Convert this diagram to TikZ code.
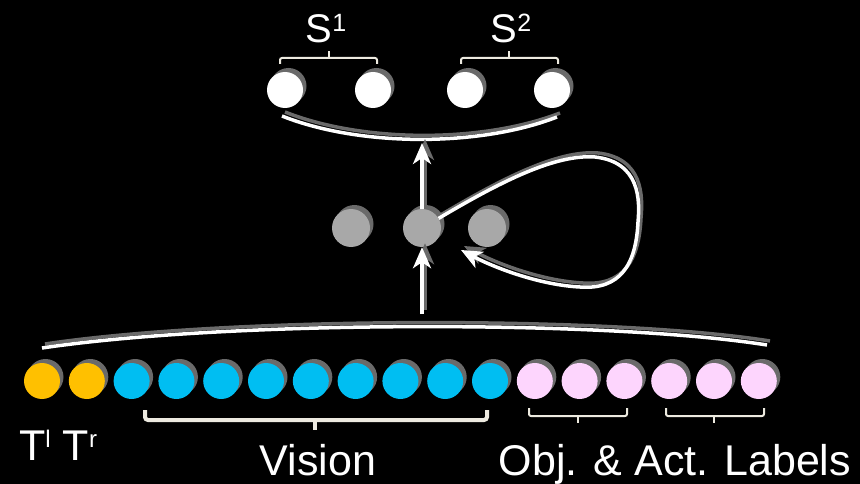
\documentclass[tikz,border=0pt]{standalone}
\usepackage{fontspec}
\setmainfont{Liberation Sans}
\usetikzlibrary{arrows.meta,shadows}

\definecolor{tokyellow}{HTML}{FFC000}
\definecolor{tokblue}{HTML}{00BEF2}
\definecolor{tokpink}{HTML}{FDD5FD}
\definecolor{hidgray}{HTML}{A8A8A8}
\definecolor{shadegray}{HTML}{6A6A6A}
\definecolor{bracecol}{HTML}{EDEAE0}

\tikzset{
  unit/.style={circle, minimum size=36pt, inner sep=0pt, draw=none,
    drop shadow={shadow xshift=3.5pt, shadow yshift=4pt, fill=shadegray, opacity=1}},
  yunit/.style={unit, fill=tokyellow},
  bunit/.style={unit, fill=tokblue},
  punit/.style={unit, fill=tokpink},
  sunit/.style={unit, fill=white},
  hunit/.style={unit, fill=hidgray, minimum size=38pt},
  wline/.style={draw=white, line width=3.5pt,
    preaction={draw=shadegray, line width=3.5pt, transform canvas={shift={(3pt,4pt)}}}},
  warrow/.style={wline, -{Stealth[length=21pt,width=18pt,inset=6pt]}},
  brace/.style={draw=bracecol, line width=2pt, rounded corners=2pt},
  bigbrace/.style={draw=bracecol, line width=4pt, rounded corners=3pt},
  lbl/.style={text=white, inner sep=0pt, anchor=base,
    font=\fontsize{43}{50}\selectfont},
  slbl/.style={text=white, inner sep=0pt, anchor=base,
    font=\fontsize{40}{46}\selectfont},
}
\newcommand{\supr}[3]{\raisebox{#1}{\fontsize{#2}{#2}\selectfont #3}}

\begin{document}
\begin{tikzpicture}[x=1pt, y=-1pt]
  \fill[black] (0,0) rectangle (860,484);
  \useasboundingbox (0,0) rectangle (860,484);

  % input token row
  \foreach \i in {1,2}
    \node[yunit] (t\i) at ({42+44.8*(\i-1)},381) {};
  \foreach \i in {3,...,11}
    \node[bunit] (t\i) at ({42+44.8*(\i-1)},381) {};
  \foreach \i in {12,...,17}
    \node[punit] (t\i) at ({42+44.8*(\i-1)},381) {};

  % hidden units
  \node[hunit] (h1) at (351,228) {};
  \node[hunit] (h2) at (422,228) {};
  \node[hunit] (h3) at (487,228) {};

  % output units
  \node[sunit] (s1) at (285,90) {};
  \node[sunit] (s2) at (373,90) {};
  \node[sunit] (s3) at (465,90) {};
  \node[sunit] (s4) at (552,90) {};

  % pooling arcs
  \coordinate (archL) at (42,348);
  \coordinate (archR) at (767,345);
  \draw[wline] (archL) .. controls (230,320) and (610,320) .. (archR);
  \coordinate (capL) at (282,116);
  \coordinate (capR) at (557,117);
  \draw[wline] (capL) .. controls (360,147) and (480,147) .. (capR);

  % arrows
  \coordinate (feed) at (422,314);
  \coordinate (merge) at (422,143);
  \coordinate (back) at (461,250);
  \draw[warrow] (feed) -- (h2.south);
  \draw[warrow] (h2.north) -- (merge);
  \draw[warrow] (h2.30) .. controls (500,182) and (555,154) .. (595,157)
     .. controls (640,162) and (640,200) .. (638,222)
     .. controls (636,265) and (620,290) .. (580,287)
     .. controls (540,285) and (495,268) .. (back);

  % braces
  \draw[brace] (280,64) -- (280,58) -- (377,58) -- (377,64);
  \draw[brace] (329,58) -- (329,51);
  \draw[brace] (461,64) -- (461,58) -- (558,58) -- (558,64);
  \draw[brace] (509,58) -- (509,51);
  \draw[bigbrace] (145,410) -- (145,420) -- (487,420) -- (487,410);
  \draw[bigbrace] (315,420) -- (315,430);
  \draw[brace] (529,408) -- (529,416) -- (627,416) -- (627,408);
  \draw[brace] (578,416) -- (578,423);
  \draw[brace] (666,408) -- (666,416) -- (764,416) -- (764,408);
  \draw[brace] (714,416) -- (714,423);

  % labels
  \node[slbl] (lS1) at (326,43) {S\supr{11pt}{25}{1}};
  \node[slbl] (lS2) at (511,43) {S\supr{11pt}{25}{2}};
  \node[lbl, anchor=base west] (lT) at (19,460) {T\supr{13pt}{24}{l} T\supr{13pt}{24}{r}};
  \node[lbl] (lV) at (318,475) {Vision};
  \node[lbl] (lO) at (675,475) {Obj. \& Act. Labels};
\end{tikzpicture}
\end{document}
